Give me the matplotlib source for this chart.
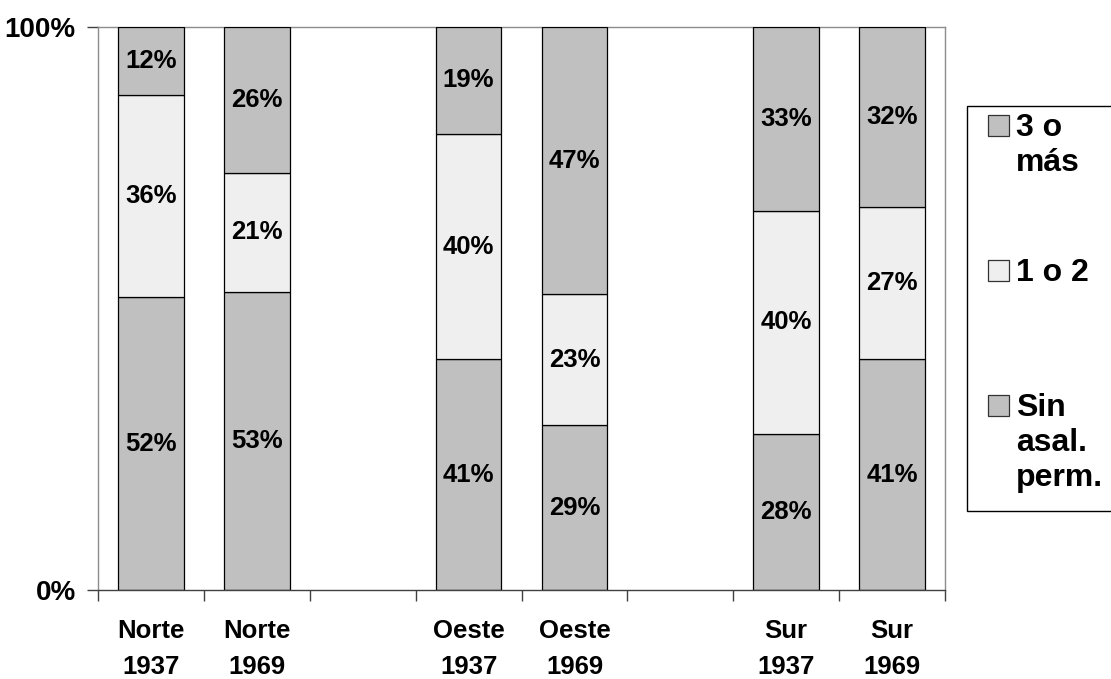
import matplotlib
matplotlib.use("Agg")
import matplotlib.pyplot as plt
from matplotlib.patches import Rectangle
import numpy as np

plt.rcParams['font.family'] = ['Liberation Sans', 'DejaVu Sans']
plt.rcParams['font.weight'] = 'bold'

# Bars: region / year
bar_labels = ["Norte\n1937", "Norte\n1969", "Oeste\n1937", "Oeste\n1969", "Sur\n1937", "Sur\n1969"]
series_names = ["Sin\nasal.\nperm.", "1 o 2", "3 o\nmás"]
sin_asal = [52, 53, 41, 29, 28, 41]
uno_dos = [36, 21, 40, 23, 40, 27]
tres_mas = [12, 26, 19, 47, 33, 32]
y_tick_labels = ["0%", "100%"]

colors = ["#c0c0c0", "#efefef", "#c0c0c0"]

W, H = 1111, 679
fig = plt.figure(figsize=(W / 100, H / 100), dpi=100)
ax = fig.add_axes([98 / W, 1 - 590 / H, (945 - 98) / W, (590 - 27) / H])

series = np.array([sin_asal, uno_dos, tres_mas], dtype=float)
shares = series / series.sum(axis=0)

# two bars per region, one empty slot between regions
n = len(bar_labels)
pos = np.array([i + i // 2 for i in range(n)], dtype=float)

bottom = np.zeros(n)
for k in range(3):
    ax.bar(pos, shares[k], bottom=bottom, width=0.62, color=colors[k],
           edgecolor="black", linewidth=0.9, zorder=3)
    for x, b, h, v in zip(pos, bottom, shares[k], series[k]):
        ax.text(x, b + h / 2, f"{int(v)}%", ha="center", va="center",
                fontsize=18.5, fontweight="bold", zorder=4)
    bottom += shares[k]

n_slots = int(pos[-1]) + 1
ax.set_xlim(-0.5, n_slots - 0.5)
ax.set_ylim(0, 1)

ax.set_xticks(pos)
ax.set_xticklabels(bar_labels, fontsize=18.5, fontweight="bold", linespacing=1.62)
ax.set_xticks(np.arange(n_slots + 1) - 0.5, minor=True)
ax.tick_params(axis="x", which="major", length=0, pad=21)
ax.tick_params(axis="x", which="minor", length=8, width=1.0, color="#404040", direction="out")

ax.set_yticks([0, 1])
ax.set_yticklabels(y_tick_labels, fontsize=20, fontweight="bold")
ax.tick_params(axis="y", length=8, width=1.0, color="#404040", direction="out", pad=8)

for side in ["left", "top", "right"]:
    ax.spines[side].set_color("#8c8c8c")
    ax.spines[side].set_linewidth(1.0)
ax.spines["bottom"].set_color("#404040")
ax.spines["bottom"].set_linewidth(1.0)
ax.spines["bottom"].set_zorder(5)

# Legend panel, drawn in pixel-based figure coordinates
def fx(px):
    return px / W

def fy(py):
    return 1 - py / H

fig.patches.append(Rectangle((fx(967), fy(511)), fx(1125) - fx(967), fy(106) - fy(511),
                             transform=fig.transFigure, facecolor="white",
                             edgecolor="black", linewidth=1.0, clip_on=False))

entries = [
    (series_names[2], colors[2], 136),
    (series_names[1], colors[1], 281),
    (series_names[0], colors[0], 416),
]
for name, col, base in entries:
    fig.patches.append(Rectangle((fx(988), fy(base)), fx(1009) - fx(988), fy(base - 21) - fy(base),
                                 transform=fig.transFigure, facecolor=col,
                                 edgecolor="#333333", linewidth=0.9))
    for j, line in enumerate(name.split("\n")):
        fig.text(fx(1016), fy(base + 35 * j), line, ha="left", va="baseline",
                 fontsize=23, fontweight="bold")

fig.savefig("out.png", dpi=100)
